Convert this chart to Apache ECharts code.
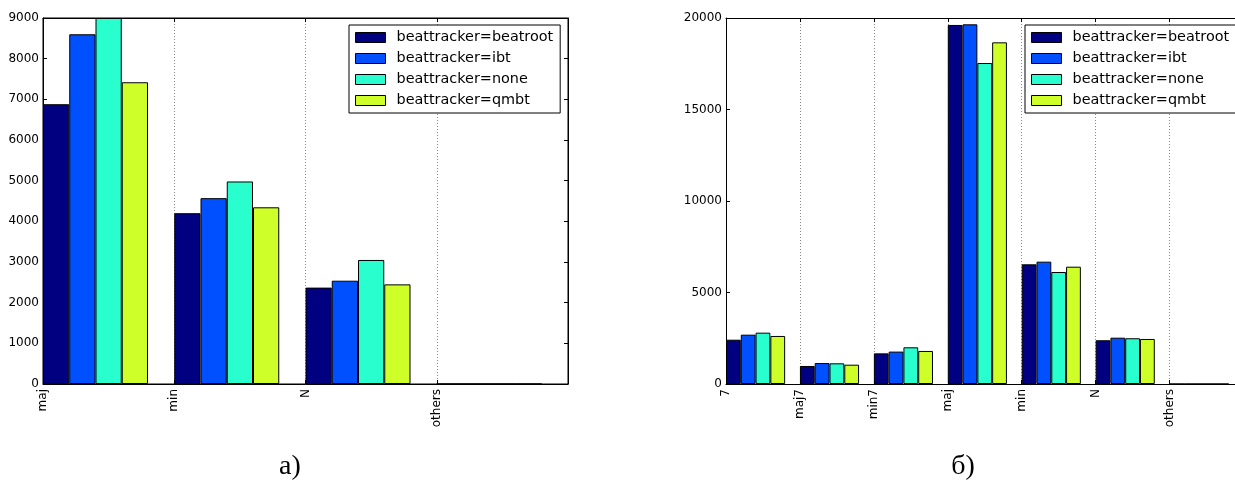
<!DOCTYPE html>
<html>
<head>
<meta charset="utf-8">
<script src="https://cdn.jsdelivr.net/npm/echarts@6/dist/echarts.min.js"></script>
<style>
html,body{margin:0;padding:0;background:#fff;}
#chart{width:1235px;height:482px;}
</style>
</head>
<body>
<div id="chart"></div>
<script>
// ---- data ----
const seriesNames = ['beattracker=beatroot', 'beattracker=ibt', 'beattracker=none', 'beattracker=qmbt'];

const categoriesA = ['maj', 'min', 'N', 'others'];
const beatrootA = [6880, 4200, 2370, 0];
const ibtA      = [8600, 4570, 2540, 0];
const noneA     = [9000, 4980, 3050, 0];
const qmbtA     = [7420, 4345, 2450, 0];
const yTicksA = { min: 0, max: 9000, interval: 1000 };

const categoriesB = ['7', 'maj7', 'min7', 'maj', 'min', 'N', 'others'];
const beatrootB = [2420, 985, 1675, 19620, 6540, 2390, 0];
const ibtB      = [2695, 1145, 1770, 19655, 6685, 2530, 0];
const noneB     = [2805, 1130, 2005, 17540, 6120, 2500, 0];
const qmbtB     = [2625, 1055, 1805, 18670, 6410, 2460, 0];
const yTicksB = { min: 0, max: 20000, interval: 5000 };

const captions = ['a)', 'б)'];

// ---- styles ----
const colors = ['#000080', '#0050ff', '#29ffce', '#ceff29'];
const FONT = 'DejaVu Sans';
const black = '#000';

// visible fraction of the x range (right panel is cut off by the page edge)
function xAxes(gridIndex, cats, visibleMax) {
  const n = cats.length;
  const max = visibleMax == null ? n : visibleMax;
  return [
    {
      gridIndex, type: 'value', min: 0, max, interval: 1, position: 'bottom',
      axisLine: { show: true, onZero: false, lineStyle: { color: black, width: 1 } },
      axisTick: { show: true, inside: true, length: 4, lineStyle: { color: black } },
      axisLabel: {
        show: true, rotate: 90, margin: 5, color: black, fontSize: 12, fontFamily: FONT,
        showMinLabel: true, showMaxLabel: true,
        formatter: v => (Number.isInteger(v) && v < n) ? cats[v] : ''
      },
      splitLine: { show: true, lineStyle: { color: '#888', type: [1, 2], width: 1 } }
    },
    {
      gridIndex, type: 'value', min: 0, max, interval: 1, position: 'top',
      axisLine: { show: true, onZero: false, lineStyle: { color: black, width: 1 } },
      axisTick: { show: true, inside: true, length: 4, lineStyle: { color: black } },
      axisLabel: { show: false }, splitLine: { show: false }
    }
  ];
}
function yAxes(gridIndex, t, showRight) {
  return [
    {
      gridIndex, type: 'value', min: t.min, max: t.max, interval: t.interval, position: 'left',
      axisLine: { show: true, onZero: false, lineStyle: { color: black, width: 1 } },
      axisTick: { show: true, inside: true, length: 4, lineStyle: { color: black } },
      axisLabel: { show: true, margin: 4, color: black, fontSize: 12, fontFamily: FONT, formatter: v => String(v) },
      splitLine: { show: false }
    },
    {
      gridIndex, type: 'value', min: t.min, max: t.max, interval: t.interval, position: 'right',
      axisLine: { show: showRight, onZero: false, lineStyle: { color: black, width: 1 } },
      axisTick: { show: showRight, inside: true, length: 4, lineStyle: { color: black } },
      axisLabel: { show: false }, splitLine: { show: false }
    }
  ];
}
function barSeries(values, idx, axisIndex) {
  return {
    type: 'bar', name: seriesNames[idx],
    xAxisIndex: axisIndex, yAxisIndex: axisIndex,
    // bars are left-aligned groups starting at each category tick (0.2 slot width each)
    data: values.map((v, k) => [k + 0.1 + 0.2 * idx, v]),
    barWidth: '100%', barGap: '-100%',
    itemStyle: { color: colors[idx], borderColor: black, borderWidth: 1 },
    emphasis: { disabled: true },
    clip: true
  };
}
function legend(left, top) {
  return {
    orient: 'vertical', left, top,
    data: seriesNames.map(n => ({ name: n, icon: 'rect', itemStyle: { borderColor: black, borderWidth: 1 } })),
    icon: 'rect',
    itemWidth: 30, itemHeight: 10, itemGap: 0,
    padding: [2, 7, 2, 6],
    backgroundColor: '#fff', borderColor: black, borderWidth: 1,
    textStyle: { fontFamily: FONT, fontSize: 14.4, color: black, lineHeight: 21, padding: [0, 0, 0, 6] },
    selectedMode: false
  };
}

const seriesA = [beatrootA, ibtA, noneA, qmbtA].map((v, i) => barSeries(v, i, 0));
const seriesB = [beatrootB, ibtB, noneB, qmbtB].map((v, i) => barSeries(v, i, 2));

// right panel: 73.93 px per category slot, 509 px visible before the page edge
const gridBWidth = 509;
const slotB = 73.93;

const option = {
  animation: false,
  backgroundColor: '#fff',
  grid: [
    { left: 43, top: 18, width: 525, height: 366, show: true, borderColor: black, borderWidth: 1, backgroundColor: 'transparent' },
    { left: 726, top: 18, width: gridBWidth, height: 366, show: false }
  ],
  xAxis: [...xAxes(0, categoriesA), ...xAxes(1, categoriesB, gridBWidth / slotB)],
  yAxis: [...yAxes(0, yTicksA, true), ...yAxes(1, yTicksB, false)],
  legend: [legend(349, 25), legend(1025, 25)],
  series: [...seriesA, ...seriesB],
  graphic: [
    { type: 'text', x: 290, y: 467, style: { text: captions[0], font: '28px "Liberation Serif"', fill: black, align: 'center', verticalAlign: 'middle' } },
    { type: 'text', x: 963, y: 467, style: { text: captions[1], font: '28px "Liberation Serif"', fill: black, align: 'center', verticalAlign: 'middle' } }
  ]
};
const chart = echarts.init(document.getElementById('chart'), null, { renderer: 'canvas' });
chart.setOption(option);
</script>
</body>
</html>
